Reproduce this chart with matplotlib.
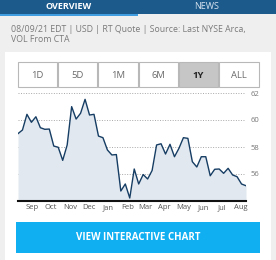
import matplotlib
matplotlib.use("Agg")
import matplotlib.pyplot as plt
import matplotlib.dates as mdates
from matplotlib.patches import Rectangle
import numpy as np
import pandas as pd

plt.rcParams['font.family'] = ['Open Sans', 'DejaVu Sans']

# ---- data ----
start_date = "2020-08-09"
end_date = "2021-08-09"
prices = [58.99, 59.26, 60.42, 59.83, 60.24, 59.43, 59.31, 59.33, 58.07, 57.98,
          57.01, 58.15, 60.99, 60.07, 60.50, 61.53, 60.37, 60.42, 58.81, 58.69,
          57.78, 57.41, 57.44, 54.74, 55.26, 54.22, 56.37, 55.26, 55.96, 55.63,
          56.26, 58.15, 58.24, 57.48, 58.20, 57.28, 57.90, 58.69, 58.64, 56.91,
          56.52, 57.28, 57.28, 55.87, 56.35, 56.37, 56.05, 56.42, 55.93, 55.80,
          55.26, 55.13]
y_ticks = [56, 58, 60, 62]
y_min, y_max = 54, 62
tabs = ["OVERVIEW", "NEWS"]
ranges = ["1D", "5D", "1M", "6M", "1Y", "ALL"]
selected = "1Y"
subtitle = ["08/09/21 EDT | USD | RT Quote | Source: Last NYSE Arca,", "VOL From CTA"]
button_label = "VIEW INTERACTIVE CHART"

dates = pd.date_range(start_date, end_date, periods=len(prices))

W, H = 276, 260
fig = plt.figure(figsize=(W / 100, H / 100), dpi=100)
fig.patch.set_facecolor("#efefef")


def fx(x):
    return x / W


def fy(y):
    return 1 - y / H


def rect(x0, y0, x1, y1, **kw):
    r = Rectangle((fx(x0), fy(y1)), fx(x1) - fx(x0), fy(y0) - fy(y1),
                  transform=fig.transFigure, **kw)
    fig.add_artist(r)
    return r


# top bar
rect(0, 0, 276, 14, facecolor="#1c5a8c", edgecolor="none")
rect(0, 13.5, 138, 15.5, facecolor="#3f9de0", edgecolor="none")
fig.text(fx(69), fy(6.5), tabs[0], color="white", fontsize=6.5, fontweight="bold",
         ha="center", va="center", zorder=3)
fig.text(fx(207), fy(6.5), tabs[1], color="#d8e4ef", fontsize=6.5,
         ha="center", va="center", zorder=3)

# subtitle
fig.text(fx(11), fy(29), subtitle[0], color="#7a7a7a", fontsize=6.3,
         ha="left", va="center")
fig.text(fx(11), fy(40), subtitle[1], color="#7a7a7a", fontsize=6.3,
         ha="left", va="center")

# white card
rect(5, 52, 271, 262, facecolor="white", edgecolor="none")

# range buttons
bx0, bx1 = 17, 259
bw = (bx1 - bx0) / len(ranges)
for i, lab in enumerate(ranges):
    sel = lab == selected
    rect(bx0 + i * bw + 0.5, 62, bx0 + (i + 1) * bw - 0.5, 87,
         facecolor="#c6c6c6" if sel else "white", edgecolor="#b8b8b8", linewidth=0.8)
    fig.text(fx(bx0 + (i + 0.5) * bw), fy(75), lab,
             color="#222222" if sel else "#6a6a6a", fontsize=6.8,
             fontweight="bold" if sel else "normal", ha="center", va="center", zorder=3)

# chart
ax = fig.add_axes([fx(18), fy(201), fx(246) - fx(18), fy(93) - fy(201)])
ax.set_zorder(5)
ax.set_facecolor("none")
ax.fill_between(dates, prices, y_min, color="#e2e8ef", linewidth=0)
ax.plot(dates, prices, color="#163d63", linewidth=1.0)
ax.set_xlim(dates[0], dates[-1])
ax.set_ylim(y_min, y_max)
for v in y_ticks:
    ax.axhline(v, color="#a8a8a8", linewidth=0.7, linestyle=(0, (1, 1.6)), zorder=0)
for s in ["top", "left", "right"]:
    ax.spines[s].set_visible(False)
ax.spines["bottom"].set_color("#111111")
ax.spines["bottom"].set_linewidth(1.5)
ax.yaxis.tick_right()
ax.set_yticks(y_ticks)
ax.set_yticklabels([str(v) for v in y_ticks])
ax.tick_params(axis="y", length=0, pad=3, labelsize=5.5, labelcolor="#777777")
ax.xaxis.set_major_locator(mdates.MonthLocator())
ax.xaxis.set_major_formatter(mdates.DateFormatter("%b"))
ax.tick_params(axis="x", length=0, pad=2.5, labelsize=5.5, labelcolor="#555555")

# interactive chart button
rect(16, 222, 260, 253, facecolor="#10aff2", edgecolor="none")
fig.text(fx(138), fy(237.5), button_label, color="white", fontsize=7,
         fontweight="bold", ha="center", va="center", zorder=3)

fig.savefig("out.png", dpi=100)
